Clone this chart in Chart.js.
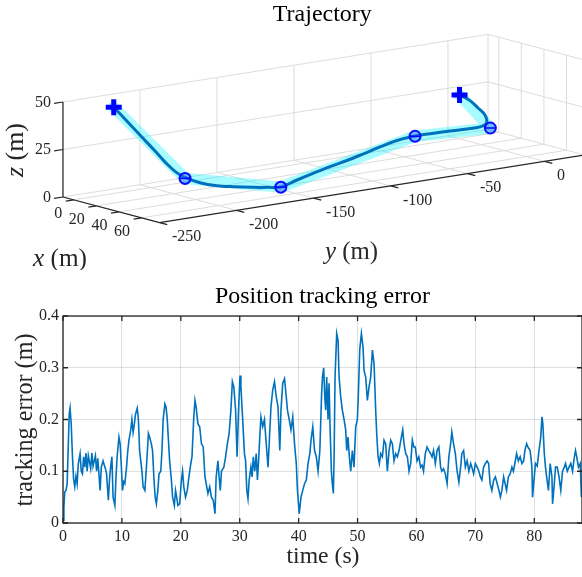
<!DOCTYPE html>
<html><head><meta charset="utf-8">
<script src="https://cdn.jsdelivr.net/npm/chart.js@4.4.1/dist/chart.umd.min.js"></script>
<style>
html,body{margin:0;padding:0;background:#fff;overflow:hidden;width:582px;height:577px;position:relative;}
canvas{position:absolute;left:0;}
#top{top:0;}
#bot{top:270px;}
</style></head><body>
<canvas id="top" width="582" height="270"></canvas>
<canvas id="bot" width="600" height="307"></canvas>
<script>
// ---------------- DATA: 3D trajectory ----------------
// reference waypoints: start, WP1..WP4, end  (metres)
const wpX = [0, 12, 62, 40, 28, 28];
const wpY = [-224, -186.5, -161, -57.7, 0, -20];
const wpZ = [45.4, 5, 5, 15, 10, 30];
// actual trajectory samples
const trajX = [0,2,4.5,7,9,10.5,12,20,28,37,48,55,62,60,57,54,51,48,46,43,40,37,34,31.5,29.5,28.5,28,28,28,28];
const trajY = [-224,-218.2,-210.3,-202.3,-196,-191.3,-186.5,-182.7,-177.5,-173.7,-168.8,-164.2,-160.9,-149,-136.4,-123.2,-110,-97.4,-84.9,-71.6,-57.7,-44.5,-30.6,-17.7,-7.8,-2.9,-3.5,-7.8,-13.2,-20];
const trajZ = [45.4,38.8,29.7,20.7,13.3,8.7,5.5,3.5,2.5,2.9,3.7,4.2,5.1,6.9,8.3,9.7,10.7,12,13.8,15,15.1,14.3,13.3,12.3,11.8,13.1,17.3,21.4,26.1,30];
const xTicks3 = [0, 20, 40, 60];
const yTicks3 = [-250, -200, -150, -100, -50, 0];
const zTicks3 = [0, 25, 50];

// ---------------- DATA: tracking error ----------------
const timeSec = [
0,0.15,0.3,0.5,0.7,0.9,1.05,1.2,1.4,1.6,1.8,2.0,2.2,2.4,2.6,2.9,3.1,3.3,3.5,3.7,
3.9,4.1,4.3,4.5,4.7,4.9,5.1,5.3,5.5,5.7,5.9,6.1,6.3,6.5,6.8,7.0,7.2,7.4,7.7,7.9,
8.1,8.3,8.5,8.8,9.0,9.2,9.5,9.7,9.9,10.1,10.3,10.5,10.8,11.0,11.2,11.5,11.7,11.9,12.1,12.3,
12.6,12.8,13.0,13.2,13.4,13.6,13.9,14.2,14.5,
14.7,15.0,15.2,15.45,15.65,15.85,16.1,16.3,16.6,16.8,17.0,17.3,17.5,17.7,17.9,18.1,18.4,18.6,18.9,19.1,
19.3,19.5,19.8,20.1,20.3,20.5,20.8,21.1,21.3,21.7,21.9,22.2,22.4,22.6,22.9,23.2,23.5,23.8,24.1,24.3,
24.6,24.9,25.2,25.5,25.8,26.0,26.3,26.5,26.7,26.9,27.3,27.6,27.9,28.2,28.5,28.75,29.0,29.3,29.55,
29.8,30.05,30.2,30.5,30.8,31.0,31.2,31.4,31.6,31.9,32.1,32.3,32.55,32.8,33.0,33.2,33.4,33.6,33.9,34.2,
34.5,34.8,35.0,35.3,35.6,35.9,36.2,36.5,36.8,37.0,37.3,37.6,37.9,38.1,38.4,38.7,39.0,39.3,39.6,39.8,
40.1,40.4,40.7,41.0,41.3,41.6,41.9,42.1,42.4,42.7,43.0,43.3,43.6,43.9,44.05,44.25,
44.45,44.6,44.76,44.99,45.16,45.33,45.56,45.72,45.89,46.01,46.18,46.46,46.69,46.86,47.14,47.42,47.71,47.99,48.16,48.38,
48.61,48.84,49.12,49.4,49.69,49.97,50.14,50.37,50.65,50.93,51.1,51.38,51.67,51.95,52.23,52.52,52.8,53.08,53.25,53.48,
53.7,53.93,54.21,54.5,54.78,55.06,55.35,55.63,55.91,56.19,56.48,56.76,57.04,57.44,57.67,57.89,58.18,58.46,58.74,59.02,
59.3,59.55,59.8,60.1,60.4,60.7,60.95,61.2,61.5,61.8,62.1,62.4,62.65,62.9,63.2,63.5,63.8,64.1,64.3,64.6,
64.9,65.2,65.5,65.8,66.0,66.3,66.6,66.9,67.2,67.5,67.7,68.0,68.3,68.6,68.9,69.2,69.4,69.7,70.0,70.3,
70.6,70.85,71.1,71.4,71.7,72.0,72.25,72.5,72.8,73.1,73.4,73.7,74.0,
74.25,74.5,74.8,75.05,75.3,75.6,75.9,76.2,76.45,76.7,77.0,77.3,77.6,77.9,78.2,78.4,78.7,79.0,79.3,79.6,
79.7,80.0,80.2,80.5,80.8,81.1,81.3,81.45,81.7,81.9,82.1,82.4,82.7,83.0,83.1,83.4,83.6,83.9,84.2,84.5,
84.8,85.1,85.3,85.6,85.9,86.2,86.5,86.8,87.0,87.2,87.5,87.8,88.0];
const trackErr = [
0.005,0.03,0.06,0.063,0.075,0.15,0.21,0.222,0.19,0.13,0.085,0.07,0.09,0.076,0.115,0.134,0.1,0.095,0.128,0.108,
0.135,0.1,0.13,0.118,0.105,0.135,0.11,0.12,0.13,0.1,0.125,0.095,0.063,0.108,0.12,0.112,0.105,0.095,0.044,0.085,
0.11,0.128,0.05,0.034,0.09,0.13,0.166,0.153,0.11,0.063,0.08,0.076,0.11,0.14,0.16,0.18,0.2,0.175,0.19,0.21,
0.222,0.2,0.14,0.12,0.1,0.07,0.063,0.115,0.173,
0.166,0.153,0.14,0.083,0.05,0.037,0.063,0.095,0.1,0.14,0.2,0.23,0.224,0.2,0.16,0.12,0.083,0.05,0.034,0.063,
0.05,0.034,0.037,0.083,0.1,0.07,0.05,0.063,0.083,0.115,0.128,0.205,0.237,0.224,0.192,0.186,0.153,0.147,0.089,0.076,
0.057,0.07,0.05,0.044,0.018,0.089,0.12,0.089,0.063,0.1,0.108,0.128,0.153,0.173,0.218,0.273,0.263,0.218,0.128,
0.218,0.285,0.263,0.2,0.134,0.12,0.063,0.047,0.083,0.108,0.089,0.128,0.1,0.134,0.083,0.12,0.166,0.205,0.186,0.2,
0.153,0.108,0.153,0.224,0.257,0.273,0.244,0.224,0.14,0.218,0.27,0.279,0.244,0.218,0.2,0.18,0.205,0.153,0.115,0.063,
0.018,0.05,0.063,0.076,0.083,0.115,0.134,0.16,0.186,0.14,0.128,0.1,0.14,0.25,0.282,0.3,
0.24,0.218,0.282,0.2,0.27,0.186,0.1,0.076,0.057,0.12,0.282,0.366,0.353,0.282,0.244,0.218,0.2,0.18,0.14,0.166,
0.128,0.1,0.14,0.108,0.186,0.2,0.25,0.334,0.366,0.34,0.295,0.282,0.237,0.263,0.282,0.334,0.308,0.218,0.173,0.128,
0.115,0.134,0.128,0.16,0.153,0.1,0.14,0.16,0.153,0.12,0.134,0.128,0.14,0.166,0.18,0.153,0.134,0.128,0.1,0.115,
0.16,0.147,0.147,0.12,0.128,0.108,0.112,0.1,0.134,0.147,0.14,0.134,0.128,0.14,0.115,0.14,0.147,0.108,0.1,0.105,
0.095,0.076,0.128,0.153,0.176,0.153,0.134,0.1,0.079,0.108,0.134,0.14,0.108,0.12,0.1,0.115,0.108,0.095,0.115,0.108,
0.1,0.089,0.083,0.108,0.115,0.12,0.115,0.076,0.063,0.083,0.089,0.076,0.063,
0.05,0.063,0.089,0.076,0.063,0.089,0.095,0.108,0.1,0.115,0.134,0.12,0.128,0.115,0.12,0.14,0.153,0.145,0.14,0.108,
0.05,0.089,0.115,0.11,0.14,0.166,0.205,0.192,0.134,0.108,0.089,0.063,0.115,0.089,0.037,0.076,0.108,0.108,0.089,0.063,
0.1,0.108,0.115,0.1,0.108,0.115,0.1,0.128,0.14,0.128,0.108,0.115,0.05];
const xTicksErr = [0,10,20,30,40,50,60,70,80];

// ---------------- view / styling ----------------
const FAM = "'Liberation Serif','Times New Roman',serif";
const TXT = '#262626';
const BOX = {xmin:-9.5, xmax:76, ymin:-250, ymax:26, zmin:0, zmax:50};
// orthographic view: screen = O + x*EX + y*EY + z*EZ
const VO = [458.7, 138.6], VX = [1.13, 0.30], VY = [1.54, -0.245], VZ = [0, -1.9];
function proj(x, y, z) {
  return {x: VO[0] + x*VX[0] + y*VY[0] + z*VZ[0], y: VO[1] + x*VX[1] + y*VY[1] + z*VZ[1]};
}

function drawFit(ctx, parts, cx, cy, targetW, rot, color) {
  const font = (p, s) => (p.it ? 'italic ' : '') + s + 'px ' + FAM;
  let w = 0;
  parts.forEach(p => { ctx.font = font(p, 20); w += ctx.measureText(p.t).width; });
  const s = 20 * targetW / w;
  const ws = parts.map(p => { ctx.font = font(p, s); return ctx.measureText(p.t).width; });
  const tot = ws.reduce((a, b) => a + b, 0);
  ctx.save();
  ctx.translate(cx, cy);
  if (rot) ctx.rotate(rot);
  ctx.textBaseline = 'middle'; ctx.textAlign = 'left'; ctx.fillStyle = color || '#000';
  let x = -tot / 2;
  parts.forEach((p, i) => { ctx.font = font(p, s); ctx.fillText(p.t, x, 0); x += ws[i]; });
  ctx.restore();
}

// ---------------- top chart (3D trajectory) ----------------
const box3dPlugin = {
  id: 'box3d',
  beforeDatasetsDraw(chart) {
    const ctx = chart.ctx, sx = chart.scales.x, sy = chart.scales.y;
    const P = (x, y, z) => { const p = proj(x, y, z); return [sx.getPixelForValue(p.x), sy.getPixelForValue(p.y)]; };
    const seg = (a, b) => { ctx.beginPath(); ctx.moveTo(a[0], a[1]); ctx.lineTo(b[0], b[1]); ctx.stroke(); };
    const B = BOX;
    ctx.save();
    ctx.strokeStyle = '#dcdcdc'; ctx.lineWidth = 1;
    zTicks3.forEach(z => { seg(P(B.xmin, B.ymin, z), P(B.xmin, B.ymax, z)); seg(P(B.xmin, B.ymax, z), P(B.xmax, B.ymax, z)); });
    yTicks3.forEach(y => { seg(P(B.xmin, y, B.zmin), P(B.xmin, y, B.zmax)); seg(P(B.xmin, y, B.zmin), P(B.xmax, y, B.zmin)); });
    xTicks3.forEach(x => { seg(P(x, B.ymax, B.zmin), P(x, B.ymax, B.zmax)); seg(P(x, B.ymin, B.zmin), P(x, B.ymax, B.zmin)); });
    seg(P(B.xmin, B.ymax, B.zmin), P(B.xmin, B.ymax, B.zmax));
    // axes
    ctx.strokeStyle = TXT; ctx.lineWidth = 1.2;
    seg(P(B.xmin, B.ymin, B.zmin), P(B.xmin, B.ymin, B.zmax));
    seg(P(B.xmin, B.ymin, B.zmin), P(B.xmax, B.ymin, B.zmin));
    seg(P(B.xmax, B.ymin, B.zmin), P(B.xmax, B.ymax, B.zmin));
    // ticks
    const ny = Math.hypot(VY[0], VY[1]), nx = Math.hypot(VX[0], VX[1]);
    const dy = [-VY[0] / ny, -VY[1] / ny], dx = [VX[0] / nx, VX[1] / nx];
    ctx.fillStyle = TXT; ctx.font = '16px ' + FAM;
    zTicks3.forEach(z => {
      const a = P(B.xmin, B.ymin, z);
      seg(a, [a[0] + 9 * dy[0], a[1] + 9 * dy[1]]);
      ctx.textAlign = 'right'; ctx.textBaseline = 'middle';
      ctx.fillText(String(z), a[0] - 12, a[1] + 0.5);
    });
    xTicks3.forEach(x => {
      const a = P(x, B.ymin, B.zmin);
      seg(a, [a[0] + 8 * dy[0], a[1] + 8 * dy[1]]);
      ctx.textAlign = 'right'; ctx.textBaseline = 'middle';
      ctx.fillText(String(x), a[0] - 11.5, a[1] + 13.6);
    });
    yTicks3.forEach(y => {
      const a = P(B.xmax, y, B.zmin);
      seg(a, [a[0] + 8 * dx[0], a[1] + 8 * dx[1]]);
      ctx.textAlign = 'left'; ctx.textBaseline = 'middle';
      ctx.fillText(String(y), a[0] + 12.4, a[1] + 14.4);
    });
    ctx.restore();
  },
  afterDraw(chart) {
    const ctx = chart.ctx;
    drawFit(ctx, [{t: 'Trajectory'}], 322.3, 15, 99, 0, '#000');
    drawFit(ctx, [{t: 'z', it: true}, {t: ' (m)'}], 16, 150, 54, -Math.PI / 2, TXT);
    drawFit(ctx, [{t: 'x', it: true}, {t: ' (m)'}], 60, 259, 54, 0, TXT);
    drawFit(ctx, [{t: 'y', it: true}, {t: ' (m)'}], 351.5, 252, 53, 0, TXT);
  }
};

const wpPts = wpX.map((v, i) => proj(v, wpY[i], wpZ[i]));
const trajPts = trajX.map((v, i) => proj(v, trajY[i], trajZ[i]));

new Chart(document.getElementById('top'), {
  type: 'scatter',
  data: {datasets: [
    {data: [wpPts[0], wpPts[wpPts.length - 1]], showLine: false, pointStyle: 'cross', pointRadius: 8,
     pointBorderWidth: 5, pointBorderColor: '#0000ff', pointBackgroundColor: '#0000ff', order: 1},
    {data: wpPts.slice(1, -1), showLine: false, pointStyle: 'line', pointRadius: 5,
     pointBorderWidth: 1.5, pointBorderColor: '#0000ff', order: 2},
    {data: wpPts.slice(1, -1), showLine: false, pointStyle: 'circle', pointRadius: 5.5,
     pointBorderWidth: 2, pointBorderColor: '#0a0aff', pointBackgroundColor: 'rgba(40,110,255,0.45)', order: 3},
    {data: trajPts, showLine: true, borderColor: '#0072BD', borderWidth: 3, pointRadius: 0, tension: 0.35, order: 4},
    {data: wpPts, showLine: true, borderColor: 'rgba(0,245,255,0.34)', borderWidth: 11.5, pointRadius: 0, tension: 0,
     borderJoinStyle: 'round', borderCapStyle: 'round', order: 5}
  ]},
  options: {
    responsive: false, animation: false, devicePixelRatio: 1, events: [],
    layout: {padding: 0, autoPadding: false},
    plugins: {legend: {display: false}, tooltip: {enabled: false}},
    scales: {
      x: {type: 'linear', display: false, min: 0, max: 582},
      y: {type: 'linear', display: false, min: 0, max: 270, reverse: true}
    }
  },
  plugins: [box3dPlugin]
});

// ---------------- bottom chart (tracking error) ----------------
const boxPlugin = {
  id: 'box2d',
  afterDatasetsDraw(chart) {
    const ctx = chart.ctx, a = chart.chartArea, sx = chart.scales.x, sy = chart.scales.y;
    ctx.save();
    ctx.strokeStyle = TXT; ctx.lineWidth = 1.3;
    ctx.strokeRect(a.left, a.top, a.right - a.left, a.bottom - a.top);
    ctx.beginPath();
    xTicksErr.forEach(t => {
      const x = sx.getPixelForValue(t);
      ctx.moveTo(x, a.bottom); ctx.lineTo(x, a.bottom - 5);
      ctx.moveTo(x, a.top); ctx.lineTo(x, a.top + 5);
    });
    sy.ticks.forEach(tk => {
      const y = sy.getPixelForValue(tk.value);
      ctx.moveTo(a.left, y); ctx.lineTo(a.left + 5, y);
      ctx.moveTo(a.right, y); ctx.lineTo(a.right - 5, y);
    });
    ctx.stroke();
    ctx.restore();
  },
  afterDraw(chart) {
    const ctx = chart.ctx;
    drawFit(ctx, [{t: 'Position tracking error'}], 322.5, 26.7, 215, 0, '#000');
    drawFit(ctx, [{t: 'time (s)'}], 323, 286.5, 73, 0, TXT);
    drawFit(ctx, [{t: 'tracking error (m)'}], 26, 150, 173, -Math.PI / 2, TXT);
  }
};

new Chart(document.getElementById('bot'), {
  type: 'line',
  data: {datasets: [{
    data: timeSec.map((t, i) => ({x: t, y: trackErr[i]})),
    borderColor: '#0072BD', borderWidth: 1.6, pointRadius: 0, tension: 0, fill: false
  }]},
  options: {
    responsive: false, animation: false, devicePixelRatio: 1, events: [],
    layout: {padding: {top: 46, right: 18, left: 0, bottom: 0}, autoPadding: false},
    plugins: {legend: {display: false}, tooltip: {enabled: false}},
    scales: {
      x: {type: 'linear', min: 0, max: 88.1,
          afterFit: s => { s.height = 54; },
          grid: {color: 'rgba(0,0,0,0.12)', drawTicks: false}, border: {display: false},
          afterBuildTicks: s => { s.ticks = xTicksErr.map(v => ({value: v})); },
          ticks: {padding: 4, color: TXT, font: {family: FAM, size: 16}, maxRotation: 0, autoSkip: false}},
      y: {type: 'linear', min: 0, max: 0.4,
          afterFit: s => { s.width = 63; },
          grid: {color: 'rgba(0,0,0,0.12)', drawTicks: false}, border: {display: false},
          ticks: {stepSize: 0.1, padding: 4, color: TXT, font: {family: FAM, size: 16}}}
    }
  },
  plugins: [boxPlugin]
});
</script>
</body></html>
